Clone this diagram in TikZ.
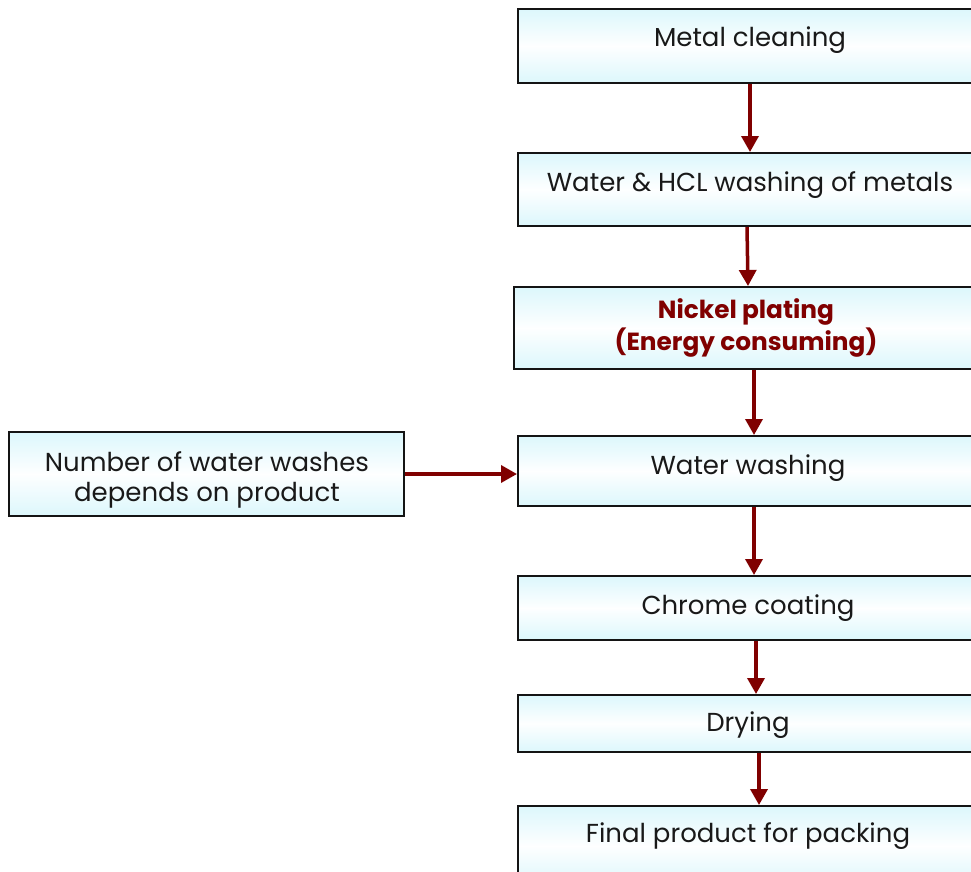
\documentclass[tikz,border=0pt]{standalone}
\usepackage{fontspec}
\setmainfont{Poppins}
\usetikzlibrary{arrows.meta}
\definecolor{boxcyan}{HTML}{DCF7FC}
\definecolor{arrred}{HTML}{800000}
\definecolor{edge}{HTML}{141414}
\begin{document}
\begin{tikzpicture}[x=1pt,y=-1pt,
  box/.style={draw=edge,line width=2pt,rectangle,inner sep=0pt,
    top color=boxcyan,bottom color=boxcyan,middle color=white!96!boxcyan},
  lbl/.style={anchor=base,inner sep=0pt,text=black!90,font=\fontsize{26}{30}\selectfont,align=center},
  blbl/.style={lbl,text=arrred,font=\fontsize{24.8}{32}\selectfont\bfseries},
  arr/.style={draw=arrred,line width=3.5pt,-{Triangle[length=16pt,width=17pt]}}]
\useasboundingbox (0,0) rectangle (971,872);
\begin{scope}
\clip (0,0) rectangle (971,872);
\node[box,minimum width=460pt,minimum height=74pt] (b1) at (748,46) {};
\node[box,minimum width=460pt,minimum height=73pt] (b2) at (748,189.5) {};
\node[box,minimum width=464pt,minimum height=82pt] (b3) at (746,328) {};
\node[box,minimum width=460pt,minimum height=70pt] (b4) at (748,471) {};
\node[box,minimum width=460pt,minimum height=64pt] (b5) at (748,608) {};
\node[box,minimum width=460pt,minimum height=57pt] (b6) at (748,723.5) {};
\node[box,minimum width=460pt,minimum height=80pt] (b7) at (748,846) {};
\node[box,minimum width=395pt,minimum height=84pt] (bl) at (206.5,474) {};
\end{scope}
\node[lbl] (t1) at (750,47) {Metal cleaning};
\node[lbl] (t2) at (750,191) {Water \& HCL washing of metals};
\node[blbl,anchor=base] (t3) at (746,350) {Nickel plating\\(Energy consuming)};
\node[lbl] (t4) at (748,474) {Water washing};
\node[lbl] (t5) at (748,614) {Chrome coating};
\node[lbl] (t6) at (748,731) {Drying};
\node[lbl] (t7) at (748,842) {Final product for packing};
\node[lbl,anchor=base] (tl) at (207,501) {Number of water washes\\depends on product};
\draw[arr] ([xshift=2pt]b1.south) -- ([xshift=2pt]b2.north);
\draw[arr] ([xshift=-1pt]b2.south) -- ([xshift=2pt]b3.north);
\draw[arr] ([xshift=8pt]b3.south) -- ([xshift=6pt]b4.north);
\draw[arr] ([xshift=6pt]b4.south) -- ([xshift=6pt]b5.north);
\draw[arr] ([xshift=8pt]b5.south) -- ([xshift=8pt]b6.north);
\draw[arr] ([xshift=11pt]b6.south) -- ([xshift=11pt]b7.north);
\draw[arr] (bl.east) -- (bl.east -| b4.west);
\end{tikzpicture}
\end{document}
